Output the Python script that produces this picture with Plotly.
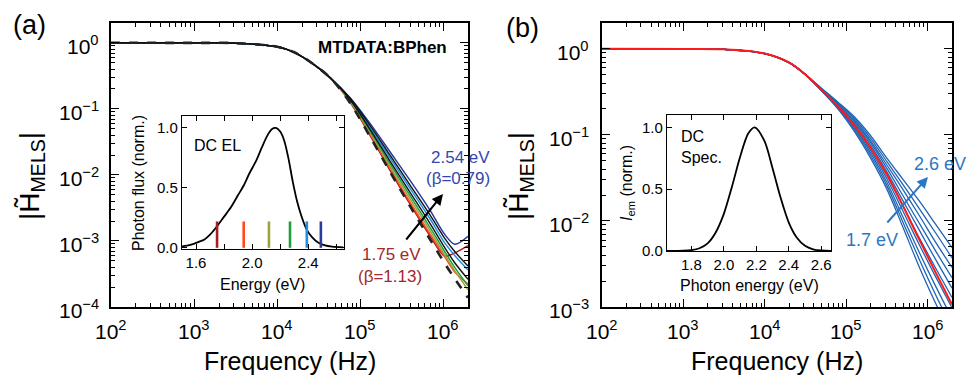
import numpy as np
import plotly.graph_objects as go

FONT = "Liberation Sans, Arial, sans-serif"

# ---------------- panel (a): MTDATA:BPhen, per-wavelength MELS response ----------------
log_f_a = [2.0, 3.0, 3.5, 4.0, 4.2, 4.4, 4.64, 4.88, 5.12, 5.36, 5.60, 5.84, 6.02, 6.14, 6.30]
low_a = [0.0, -0.001, -0.005, -0.06, -0.14, -0.29, -0.53]

log_h_darkred = low_a + [-0.90, -1.40, -1.93, -2.44, -2.92, -3.23, -3.18, -3.07]
log_h_orange = low_a + [-0.89, -1.38, -1.90, -2.41, -2.89, -3.24, -3.47, -3.65]
log_h_olive = low_a + [-0.88, -1.36, -1.87, -2.36, -2.84, -3.21, -3.45, -3.74]
log_h_green = low_a + [-0.87, -1.33, -1.83, -2.31, -2.79, -3.16, -3.40, -3.68]
log_h_lightblue = low_a + [-0.85, -1.28, -1.74, -2.20, -2.66, -3.03, -3.22, -3.44]
log_h_darkblue = low_a + [-0.83, -1.22, -1.65, -2.08, -2.53, -2.90, -3.05, -2.93]
log_h_fit1 = low_a + [-0.84, -1.25, -1.70, -2.15, -2.60, -2.96, -3.16, -3.38]
log_h_fit2 = low_a + [-0.86, -1.31, -1.79, -2.26, -2.73, -3.10, -3.33, -3.58]
log_h_dashed = low_a + [-0.91, -1.42, -1.95, -2.47, -2.97, -3.34, -3.57, -3.86]

# inset (a): DC electroluminescence spectrum
el_energy = [1.50, 1.56, 1.62, 1.66, 1.70, 1.75, 1.80, 1.85, 1.90, 1.94, 1.98, 2.03, 2.07, 2.11, 2.14,
             2.17, 2.20, 2.23, 2.26, 2.29, 2.32, 2.35, 2.39, 2.43, 2.47, 2.52, 2.57, 2.65]
el_flux = [0.012, 0.025, 0.05, 0.07, 0.11, 0.18, 0.26, 0.34, 0.44, 0.52, 0.62, 0.73, 0.84, 0.94, 0.99,
           1.0, 0.97, 0.89, 0.74, 0.55, 0.39, 0.27, 0.15, 0.085, 0.045, 0.02, 0.01, 0.004]
bar_energy = [1.75, 1.94, 2.12, 2.27, 2.39, 2.49]
bar_height = 0.22

# ---------------- panel (b): simulated spectral dependence ----------------
log_f_b = [2.0, 3.0, 3.5, 4.0, 4.3, 4.5, 4.7, 4.9, 5.1, 5.3, 5.5, 5.7, 5.9, 6.1, 6.3]
low_b = [0.0, -0.001, -0.006, -0.055, -0.16, -0.30]
blue_energy = [1.7, 1.8, 1.9, 2.0, 2.1, 2.2, 2.3, 2.4, 2.5, 2.6]
log_h_blue = [
    low_b + [-0.49, -0.70, -0.96, -1.27, -1.63, -2.08, -2.54, -2.96, -3.36],
    low_b + [-0.49, -0.69, -0.94, -1.24, -1.59, -2.02, -2.45, -2.86, -3.24],
    low_b + [-0.49, -0.68, -0.92, -1.21, -1.55, -1.96, -2.37, -2.76, -3.13],
    low_b + [-0.48, -0.68, -0.90, -1.18, -1.51, -1.89, -2.28, -2.65, -3.01],
    low_b + [-0.48, -0.67, -0.89, -1.15, -1.47, -1.83, -2.20, -2.55, -2.89],
    low_b + [-0.48, -0.66, -0.87, -1.12, -1.43, -1.77, -2.11, -2.45, -2.78],
    low_b + [-0.47, -0.65, -0.85, -1.09, -1.39, -1.71, -2.03, -2.35, -2.66],
    low_b + [-0.47, -0.64, -0.83, -1.07, -1.35, -1.64, -1.94, -2.25, -2.54],
    low_b + [-0.47, -0.63, -0.81, -1.04, -1.31, -1.58, -1.86, -2.14, -2.43],
    low_b + [-0.46, -0.62, -0.79, -1.01, -1.27, -1.52, -1.77, -2.04, -2.31],
]
log_h_red = low_b + [-0.48, -0.67, -0.89, -1.15, -1.46, -1.83, -2.22, -2.60, -2.97]

# inset (b): DC emission spectrum
spec_energy = [1.65, 1.75, 1.80, 1.85, 1.90, 1.95, 2.00, 2.05, 2.10, 2.15, 2.19, 2.25,
               2.30, 2.35, 2.40, 2.45, 2.50, 2.55, 2.60, 2.66]
spec_int = [0.0, 0.002, 0.007, 0.022, 0.062, 0.15, 0.30, 0.52, 0.76, 0.95, 1.0, 0.89,
            0.67, 0.43, 0.23, 0.107, 0.042, 0.014, 0.004, 0.001]

# decade labels of the main axes
freq_exps = [2, 3, 4, 5, 6]
mag_exps_a = [-4, -3, -2, -1, 0]
mag_exps_b = [-3, -2, -1, 0]

W, H = 970, 377


def px(x):
    return x / W


def py(y):
    return 1 - y / H


fig = go.Figure()


def curve(logf, logh, color, width, xa, ya, dash="solid"):
    fig.add_trace(go.Scatter(
        x=np.power(10.0, logf), y=np.power(10.0, logh), mode="lines",
        line=dict(color=color, width=width, dash=dash, shape="spline", smoothing=0.9),
        xaxis=xa, yaxis=ya, showlegend=False, hoverinfo="skip"))


# panel (a) curves
curve(log_f_a, log_h_darkred, "#a51e22", 1.5, "x", "y")
curve(log_f_a, log_h_orange, "#ff4a1c", 1.5, "x", "y")
curve(log_f_a, log_h_olive, "#9ea23c", 1.5, "x", "y")
curve(log_f_a, log_h_green, "#1f9e3c", 1.5, "x", "y")
curve(log_f_a, log_h_lightblue, "#1d8fe0", 1.5, "x", "y")
curve(log_f_a, log_h_darkblue, "#2a3a9c", 1.5, "x", "y")
curve(log_f_a, log_h_fit1, "#111111", 1.4, "x", "y")
curve(log_f_a, log_h_fit2, "#111111", 1.4, "x", "y")
curve(log_f_a, log_h_dashed, "#222222", 2.6, "x", "y", dash="dash")

# inset (a)
fig.add_trace(go.Scatter(x=el_energy, y=el_flux, mode="lines",
                         line=dict(color="black", width=1.8, shape="spline", smoothing=0.8),
                         xaxis="x3", yaxis="y3", showlegend=False, hoverinfo="skip"))
bar_colors = ["#a51e22", "#ff4a1c", "#9ea23c", "#1f9e3c", "#1d8fe0", "#2a3a9c"]
for e, c in zip(bar_energy, bar_colors):
    fig.add_trace(go.Scatter(x=[e, e], y=[0, bar_height], mode="lines",
                             line=dict(color=c, width=2.6),
                             xaxis="x3", yaxis="y3", showlegend=False, hoverinfo="skip"))

# panel (b) curves
for lh in log_h_blue:
    curve(log_f_b, lh, "#1f64b4", 1.3, "x2", "y2")
curve(log_f_b, log_h_red, "#ff1a1a", 2.0, "x2", "y2")

# inset (b)
fig.add_trace(go.Scatter(x=spec_energy, y=spec_int, mode="lines",
                         line=dict(color="black", width=1.8, shape="spline", smoothing=0.8),
                         xaxis="x4", yaxis="y4", showlegend=False, hoverinfo="skip"))


def log_axis(domain, rng, anchor, exps):
    lo, hi = int(np.floor(rng[0])), int(np.ceil(rng[1]))
    minor_vals = [m * 10.0 ** d for d in range(lo, hi) for m in range(2, 10)
                  if rng[0] <= np.log10(m * 10.0 ** d) <= rng[1]]
    return dict(type="log", domain=domain, range=rng, anchor=anchor,
                tickmode="array", tickvals=[10.0 ** e for e in exps],
                showticklabels=False,
                showline=True, linecolor="black", linewidth=1.6,
                mirror="allticks", ticks="inside", ticklen=8, tickwidth=1.4, tickcolor="black",
                minor=dict(tickmode="array", tickvals=minor_vals, ticks="inside", ticklen=4,
                           tickwidth=1.1, tickcolor="black", showgrid=False),
                showgrid=False, zeroline=False)


def lin_axis(domain, rng, anchor, dtick, tick0, minor_dtick=None, fmt=".1f"):
    ax = dict(domain=domain, range=rng, anchor=anchor, dtick=dtick, tick0=tick0,
              tickformat=fmt, showline=True, linecolor="black", linewidth=1.4,
              mirror="allticks", ticks="inside", ticklen=5, tickwidth=1.2, tickcolor="black",
              showgrid=False, zeroline=False,
              tickfont=dict(family=FONT, size=15, color="black"))
    if minor_dtick:
        ax["minor"] = dict(ticks="inside", ticklen=5, tickwidth=1.2, tickcolor="black",
                           dtick=minor_dtick, showgrid=False)
    return ax


ydom = [py(307), py(23)]
fig.update_layout(
    width=W, height=H, margin=dict(l=0, r=0, t=0, b=0, autoexpand=False),
    paper_bgcolor="white", plot_bgcolor="rgba(0,0,0,0)",
    xaxis=log_axis([px(111), px(468)], [2, 6.3], "y", freq_exps),
    yaxis=log_axis(ydom, [-4, 0.3], "x", mag_exps_a),
    xaxis2=log_axis([px(602), px(952)], [2, 6.3], "y2", freq_exps),
    yaxis2=log_axis(ydom, [-3, 0.3], "x2", mag_exps_b),
    xaxis3=lin_axis([px(182), px(344)], [1.5, 2.655], "y3", 0.4, 1.6, 0.2),
    yaxis3=lin_axis([py(249), py(116)], [-0.01, 1.1], "x3", 0.5, 0),
    xaxis4=lin_axis([px(667), px(831)], [1.65, 2.66], "y4", 0.2, 1.8),
    yaxis4=lin_axis([py(251), py(115)], [0, 1.1], "x4", 0.5, 0),
)

BLUE_A = "#3346b0"
RED_A = "#a3282c"
BLUE_B = "#2a77c6"


def pow_label(n):
    return "10<sup>%s</sup>" % (str(n).replace("-", "\u2212"))


# decade tick labels, placed through each axis' own log scale
for xr in ("x", "x2"):
    for e in freq_exps:
        fig.add_annotation(x=e, y=py(330), xref=xr, yref="paper", text=pow_label(e),
                           showarrow=False, xanchor="center", yanchor="middle",
                           font=dict(family=FONT, size=21, color="black"))
for yr, xp, exps in (("y", 101, mag_exps_a), ("y2", 591, mag_exps_b)):
    for e in exps:
        fig.add_annotation(x=px(xp), y=e, xref="paper", yref=yr, text=pow_label(e),
                           showarrow=False, xanchor="right", yanchor="middle", yshift=-2,
                           font=dict(family=FONT, size=21, color="black"))


def text(x, y, s, size, color="black", angle=0, xanchor="center", bold=False, yanchor="middle"):
    fig.add_annotation(x=px(x), y=py(y), xref="paper", yref="paper", text=s, showarrow=False,
                       textangle=angle, xanchor=xanchor, yanchor=yanchor,
                       font=dict(family=FONT, size=size, color=color,
                                 weight="bold" if bold else "normal"))


# panel labels
text(29, 25, "(a)", 27)
text(522, 28, "(b)", 27)

# main axis titles
text(290, 377, "Frequency (Hz)", 25, yanchor="bottom")
text(777, 377, "Frequency (Hz)", 25, yanchor="bottom")
text(31, 176, "|H\u0303<sub>MELS</sub>|", 28, angle=-90)
text(520, 176, "|H\u0303<sub>MELS</sub>|", 28, angle=-90)

# panel (a) texts
text(449, 47, "MTDATA:BPhen", 17, xanchor="right", bold=True)
text(460, 157, "2.54 eV", 17, BLUE_A)
text(458, 178, "(\u03b2=0.79)", 17, BLUE_A)
text(391, 254, "1.75 eV", 17, RED_A)
text(390, 276, "(\u03b2=1.13)", 17, RED_A)
fig.add_annotation(x=px(443), y=py(194), xref="paper", yref="paper", ax=-38, ay=47,
                   axref="pixel", ayref="pixel", showarrow=True, arrowhead=2, arrowsize=1.1,
                   arrowwidth=2, arrowcolor="black", text="")

# inset (a) texts
text(192, 145, "DC EL", 16, xanchor="left")
text(138, 183, "Photon flux (norm.)", 16, angle=-90)
text(262, 284, "Energy (eV)", 16)

# panel (b) texts
text(940, 164, "2.6 eV", 18, BLUE_B)
text(872, 240, "1.7 eV", 18, BLUE_B)
fig.add_annotation(x=px(928), y=py(177), xref="paper", yref="paper", ax=-42, ay=47,
                   axref="pixel", ayref="pixel", showarrow=True, arrowhead=2, arrowsize=1.1,
                   arrowwidth=2, arrowcolor=BLUE_B, text="")

# inset (b) texts
fig.add_annotation(x=px(679), y=py(147), xref="paper", yref="paper", text="DC<br>Spec.",
                   showarrow=False, xanchor="left", yanchor="middle", align="left",
                   font=dict(family=FONT, size=16, color="black"))
text(627, 183, "<i>I</i><sub>em</sub> (norm.)", 16, angle=-90)
text(749, 285, "Photon energy (eV)", 16)

fig.write_html("out.html")
